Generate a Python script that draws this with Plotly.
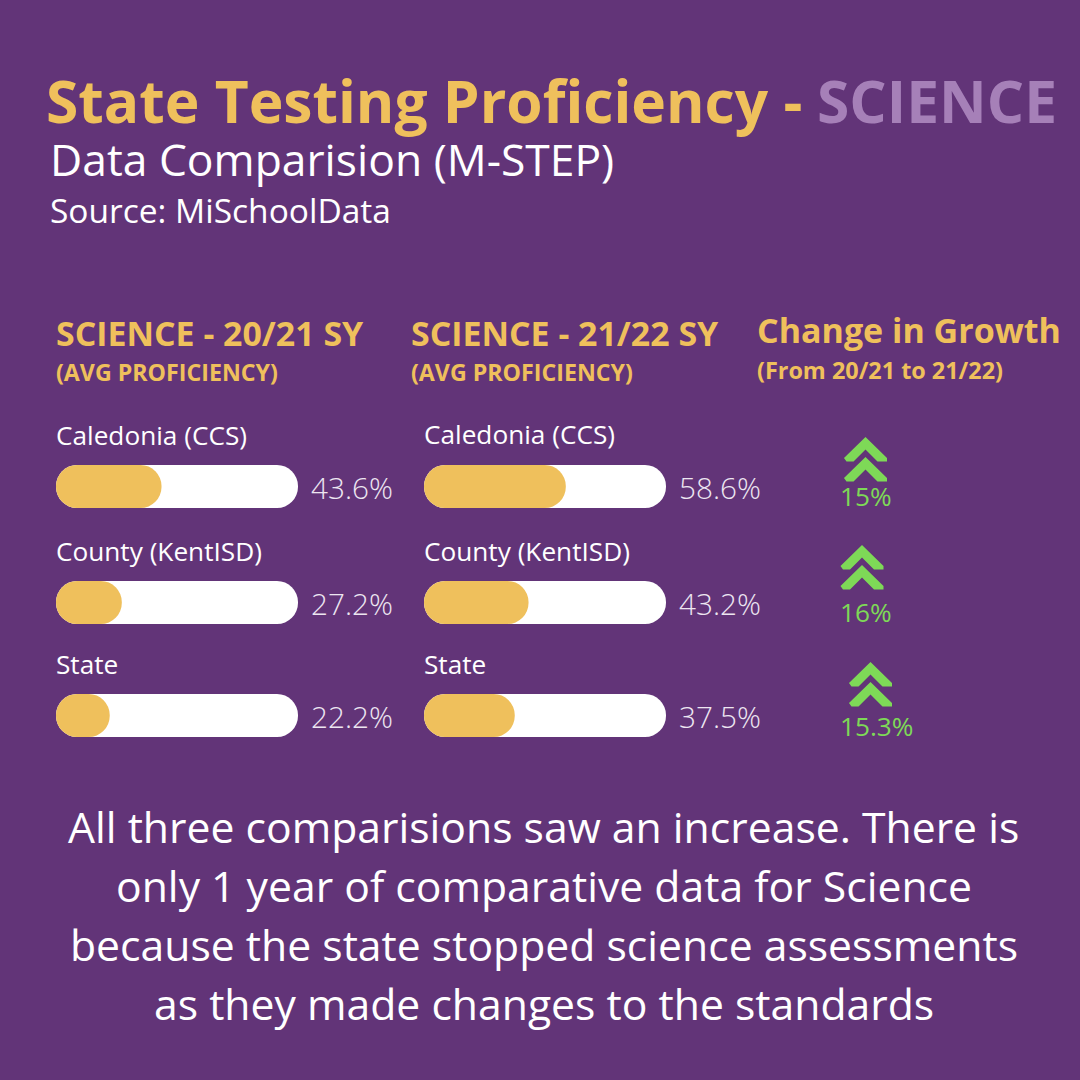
import plotly.graph_objects as go

BG = "#623478"
YELLOW = "#EFC05C"
LILAC = "#A680B8"
GREEN = "#7ED957"
WHITE = "#FFFFFF"
FONT = "Open Sans"
W = H = 1080

# data
places = ["Caledonia (CCS)", "County (KentISD)", "State"]
science_2021 = [43.6, 27.2, 22.2]
science_2122 = [58.6, 43.2, 37.5]
growth_labels = ["15%", "16%", "15.3%"]

summary_lines = [
    "All three comparisions saw an increase. There is",
    "only 1 year of comparative data for Science",
    "because the state stopped science assessments",
    "as they made changes to the standards",
]

# layout in page pixels
bar_tops = [465, 581, 694]
bar_h = 43
label_ys = [[436, 552, 665], [435, 552, 665]]
panel_left = [56, 424]
panel_w = 242
value_x = [311, 679]
chevron_x = [865.5, 862, 870.5]
chevron_y = [437, 545, 662]
growth_text = [(865.5, 497), (865.5, 613), (876.5, 727)]


def txt(x, y, s, size, color=WHITE, bold=False, anchor="left", weight=None):
    # annotations carry a little padding, pull them back onto the measured spot
    px = x - 3 if anchor == "left" else x
    return dict(
        x=px / W, y=1 - (y - 2) / H, xref="paper", yref="paper", text=s, showarrow=False,
        xanchor=anchor, yanchor="middle", align=anchor,
        font=dict(family=FONT, size=size, color=color, weight=weight or (700 if bold else 400)),
    )


def chevron(cx, top):
    pts = [(0, 0), (21.5, 21), (21.5, 24.5), (12, 24.5), (0, 12.5),
           (-12, 24.5), (-19, 24.5), (-21.5, 21)]
    return "M" + " L".join(f"{(cx + a) / W:.5f},{1 - (top + b) / H:.5f}" for a, b in pts) + " Z"


def pill(fig, v, place, color, xa, ya):
    # an explicit base makes cornerradius round both ends
    fig.add_trace(go.Bar(x=[v], base=[0], y=[place], orientation="h", width=1, xaxis=xa, yaxis=ya,
                         marker=dict(color=color, cornerradius=bar_h / 2, line_width=0), hoverinfo="skip"))


fig = go.Figure()
layout_axes = {}
n = 0
for col, values in enumerate([science_2021, science_2122]):
    for row, v in enumerate(values):
        n += 1
        xa, ya = f"x{n}", f"y{n}"
        pill(fig, 100, places[row], WHITE, xa, ya)
        pill(fig, v, places[row], YELLOW, xa, ya)
        key = "" if n == 1 else str(n)
        layout_axes["xaxis" + key] = dict(domain=[panel_left[col] / W, (panel_left[col] + panel_w) / W],
                                          range=[0, 100], visible=False, anchor=ya, fixedrange=True)
        layout_axes["yaxis" + key] = dict(domain=[1 - (bar_tops[row] + bar_h) / H, 1 - bar_tops[row] / H],
                                          visible=False, anchor=xa, fixedrange=True)

notes = [
    txt(47, 102, "State Testing Proficiency -", 58.7, YELLOW, True),
    txt(818, 102, "SCIENCE", 58.7, LILAC, True),
    txt(51, 161, "Data Comparision (M-STEP)", 44.4),
    txt(50.5, 212, "Source: MiSchoolData", 33.5),
    txt(57, 335, "SCIENCE - 20/21 SY", 33.9, YELLOW, True),
    txt(57, 374, "(AVG PROFICIENCY)", 23.2, YELLOW, True),
    txt(412, 335, "SCIENCE - 21/22 SY", 33.9, YELLOW, True),
    txt(412, 374, "(AVG PROFICIENCY)", 23.2, YELLOW, True),
    txt(758, 332, "Change in Growth", 34, YELLOW, True),
    txt(758, 372, "(From 20/21 to 21/22)", 23.4, YELLOW, True),
]
for col, values in enumerate([science_2021, science_2122]):
    for row, v in enumerate(values):
        notes.append(txt(panel_left[col] + 1, label_ys[col][row] + 1, places[row], 26.2))
        notes.append(txt(value_x[col] + 1, bar_tops[row] + 24, f"{v}%", 29.7, "#EDE6F1", weight=300))
for (x, y), s in zip(growth_text, growth_labels):
    notes.append(txt(x, y + 1, s, 26.2, GREEN, anchor="center"))
for i, line in enumerate(summary_lines):
    notes.append(txt(543.5, 828 + i * 59, line, 42.7, anchor="center"))

shapes = []
for cx, top in zip(chevron_x, chevron_y):
    for dy in (0, 20):
        shapes.append(dict(type="path", xref="paper", yref="paper", path=chevron(cx, top + dy),
                           fillcolor=GREEN, line_width=0))

fig.update_layout(
    barmode="overlay", showlegend=False, width=W, height=H,
    margin=dict(l=0, r=0, t=0, b=0), paper_bgcolor=BG, plot_bgcolor=BG,
    annotations=notes, shapes=shapes, **layout_axes,
)

fig.write_html("out.html", config={"displayModeBar": False},
               post_script="document.body.style.margin='0';document.body.style.background='%s';" % BG)
